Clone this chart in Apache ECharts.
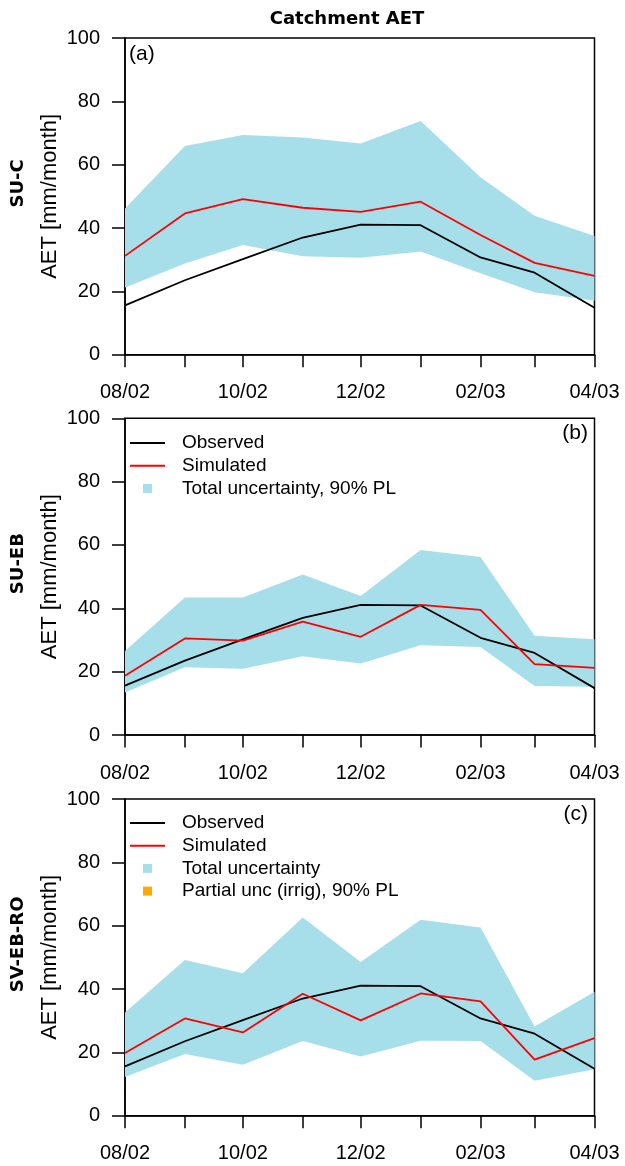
<!DOCTYPE html>
<html>
<head>
<meta charset="utf-8">
<script src="https://cdn.jsdelivr.net/npm/echarts@6/dist/echarts.min.js"></script>
<style>
  html, body { margin: 0; padding: 0; background: #ffffff; }
  #chart { width: 625px; height: 1166px; }
</style>
</head>
<body>
<div id="chart"></div>
<script>
// Monthly catchment actual evapotranspiration, Aug 2002 – Apr 2003
const months = ['2002-08', '2002-09', '2002-10', '2002-11', '2002-12', '2003-01', '2003-02', '2003-03', '2003-04'];
const labelMonths = ['2002-08', '2002-10', '2002-12', '2003-02', '2003-04'];
const yTicks = [0, 20, 40, 60, 80, 100];

const observed = [15.6, 23.5, 30.2, 37.0, 41.1, 40.9, 30.7, 25.9, 14.8];

// (a) SU-C
const simA   = [31.2, 44.6, 49.1, 46.4, 45.1, 48.3, 37.8, 29.0, 24.9];
const lowerA = [21.2, 28.8, 34.6, 31.1, 30.6, 32.6, 25.7, 19.7, 17.0];
const upperA = [46.2, 65.9, 69.4, 68.6, 66.7, 73.8, 56.0, 43.9, 37.5];

// (b) SU-EB
const simB   = [18.7, 30.5, 29.8, 35.8, 31.0, 41.1, 39.5, 22.4, 21.2];
const lowerB = [13.4, 21.4, 20.9, 24.9, 22.6, 28.3, 27.8, 15.5, 15.2];
const upperB = [26.5, 43.4, 43.4, 50.7, 43.9, 58.4, 56.2, 31.3, 30.2];

// (c) SV-EB-RO
const simC   = [19.8, 30.7, 26.3, 38.5, 30.1, 38.6, 36.1, 17.7, 24.5];
const lowerC = [12.2, 19.5, 16.1, 23.6, 18.7, 23.7, 23.6, 11.0, 14.7];
const upperC = [32.6, 49.2, 45.0, 62.6, 48.5, 61.9, 59.4, 28.2, 39.1];

const panelNames = ['SU-C', 'SU-EB', 'SV-EB-RO'];
const panelTags = ['(a)', '(b)', '(c)'];
const bandNames = ['Total uncertainty, 90% PL', 'Total uncertainty, 90% PL', 'Total uncertainty'];
const irrigName = 'Partial unc (irrig), 90% PL';
const yName = 'AET [mm/month]';
const titleText = 'Catchment AET';

const panels = [
  { sim: simA, lower: lowerA, upper: upperA },
  { sim: simB, lower: lowerB, upper: upperB },
  { sim: simC, lower: lowerC, upper: upperC }
];

const BAND = '#a6dfea';
const IRRIG = '#ffaa00';
const SANS = '"Liberation Sans", Arial, sans-serif';
const BOLD = '"DejaVu Sans", Verdana, sans-serif';

// x positions are calendar days (UTC), so months keep their true lengths
const DAY = 86400000;
function toDay(m) {
  const p = m.split('-').map(Number);
  return Date.UTC(p[0], p[1] - 1, 1) / DAY;
}
function dayLabel(v) {
  const d = new Date(Math.round(v) * DAY);
  const mm = String(d.getUTCMonth() + 1).padStart(2, '0');
  const yy = String(d.getUTCFullYear() % 100).padStart(2, '0');
  return mm + '/' + yy;
}
const days = months.map(toDay);
const labelDays = labelMonths.map(toDay);
const pairs = (vals) => vals.map((v, i) => [days[i], v]);

// plot-area layout
const LEFT = 125, WIDTH = 469.5;
const tops = [38, 418.3, 799];
const HEIGHT = 316.7;

const grid = [], xAxis = [], yAxis = [], series = [], graphic = [];

panels.forEach((p, i) => {
  grid.push({
    left: LEFT, top: tops[i], width: WIDTH, height: HEIGHT,
    show: true, borderColor: '#000', borderWidth: 1.5, backgroundColor: 'transparent'
  });
  xAxis.push({
    type: 'value', gridIndex: i,
    min: days[0], max: days[days.length - 1],
    axisLine: { show: true, onZero: false, lineStyle: { color: '#000', width: 1.5 } },
    axisTick: { show: true, inside: false, length: 12.5, customValues: days, lineStyle: { color: '#000', width: 1.5 } },
    axisLabel: {
      customValues: labelDays, margin: 28, color: '#000', fontFamily: SANS, fontSize: 20,
      formatter: dayLabel
    },
    splitLine: { show: false }
  });
  yAxis.push({
    type: 'value', gridIndex: i, min: yTicks[0], max: yTicks[yTicks.length - 1], interval: yTicks[1] - yTicks[0],
    axisLine: { show: true, lineStyle: { color: '#000', width: 1.5 } },
    axisTick: { show: true, inside: false, length: 13, lineStyle: { color: '#000', width: 1.5 } },
    axisLabel: { margin: 25, color: '#000', fontFamily: SANS, fontSize: 20 },
    splitLine: { show: false }
  });

  // uncertainty band: one polygon, upper bound forward then lower bound back
  series.push({
    type: 'custom', name: bandNames[i], xAxisIndex: i, yAxisIndex: i,
    data: p.lower.map((lo, k) => [days[k], lo, p.upper[k]]),
    encode: { x: 0, y: [1, 2] },
    itemStyle: { color: BAND }, silent: true, z: 1, clip: true,
    renderItem: (params, api) => {
      if (params.dataIndex !== 0) return null;
      const top = [], bottom = [];
      for (let k = 0; k < days.length; k++) {
        top.push(api.coord([days[k], p.upper[k]]));
        bottom.unshift(api.coord([days[k], p.lower[k]]));
      }
      return { type: 'polygon', shape: { points: top.concat(bottom) }, style: { fill: BAND } };
    }
  });
  series.push({
    type: 'line', name: 'Observed', xAxisIndex: i, yAxisIndex: i,
    data: pairs(observed), symbol: 'none', itemStyle: { color: '#000' },
    lineStyle: { color: '#000', width: 1.8 }, z: 3
  });
  series.push({
    type: 'line', name: 'Simulated', xAxisIndex: i, yAxisIndex: i,
    data: pairs(p.sim), symbol: 'none', itemStyle: { color: '#ff0000' },
    lineStyle: { color: '#ff0000', width: 1.8 }, z: 4
  });

  const mid = tops[i] + HEIGHT / 2;
  graphic.push({
    type: 'text', x: 50, y: mid, rotation: Math.PI / 2,
    style: { text: yName, font: '22px ' + SANS, fill: '#000', align: 'center', verticalAlign: 'middle' }
  });
  graphic.push({
    type: 'text', x: 18.5, y: mid - 13, rotation: Math.PI / 2,
    style: { text: panelNames[i], font: 'bold 18px ' + BOLD, fill: '#000', align: 'center', verticalAlign: 'middle' }
  });
  graphic.push(i === 0
    ? { type: 'text', x: 129, y: tops[i] + 16, style: { text: panelTags[i], font: '21px ' + SANS, fill: '#000', align: 'left', verticalAlign: 'middle' } }
    : { type: 'text', x: 588, y: tops[i] + 15, style: { text: panelTags[i], font: '21px ' + SANS, fill: '#000', align: 'right', verticalAlign: 'middle' } });
});

// irrigation-only partial uncertainty (legend entry of panel c)
series.push({
  type: 'line', name: irrigName, xAxisIndex: 2, yAxisIndex: 2, data: [],
  symbol: 'none', itemStyle: { color: IRRIG }, lineStyle: { color: IRRIG }
});

graphic.push({
  type: 'text', x: 347, y: 19.5,
  style: { text: titleText, font: 'bold 18px ' + BOLD, fill: '#000', align: 'center', verticalAlign: 'middle' }
});

const LINE_ICON = 'path://M0,0H35V2H0Z';
const SQUARE_ICON = 'path://M0,0H10V10H0Z';
const legendBase = {
  orient: 'vertical', left: 130, itemWidth: 35, itemHeight: 9, itemGap: 2.7, padding: 0,
  selectedMode: false, symbolKeepAspect: true,
  itemStyle: { borderWidth: 0 },
  textStyle: { fontFamily: SANS, fontSize: 19, color: '#000', lineHeight: 20, padding: [0, 0, 0, 12] }
};
const legend = [
  Object.assign({}, legendBase, {
    top: 433,
    data: [
      { name: 'Observed', icon: LINE_ICON, itemStyle: { color: '#000' } },
      { name: 'Simulated', icon: LINE_ICON, itemStyle: { color: '#ff0000' } },
      { name: bandNames[1], icon: SQUARE_ICON, itemStyle: { color: BAND } }
    ]
  }),
  Object.assign({}, legendBase, {
    top: 813,
    data: [
      { name: 'Observed', icon: LINE_ICON, itemStyle: { color: '#000' } },
      { name: 'Simulated', icon: LINE_ICON, itemStyle: { color: '#ff0000' } },
      { name: bandNames[2], icon: SQUARE_ICON, itemStyle: { color: BAND } },
      { name: irrigName, icon: SQUARE_ICON, itemStyle: { color: IRRIG } }
    ]
  })
];

const chart = echarts.init(document.getElementById('chart'), null, { renderer: 'canvas' });
chart.setOption({
  backgroundColor: '#ffffff',
  animation: false,
  grid, xAxis, yAxis, series, legend, graphic
});
</script>
</body>
</html>
